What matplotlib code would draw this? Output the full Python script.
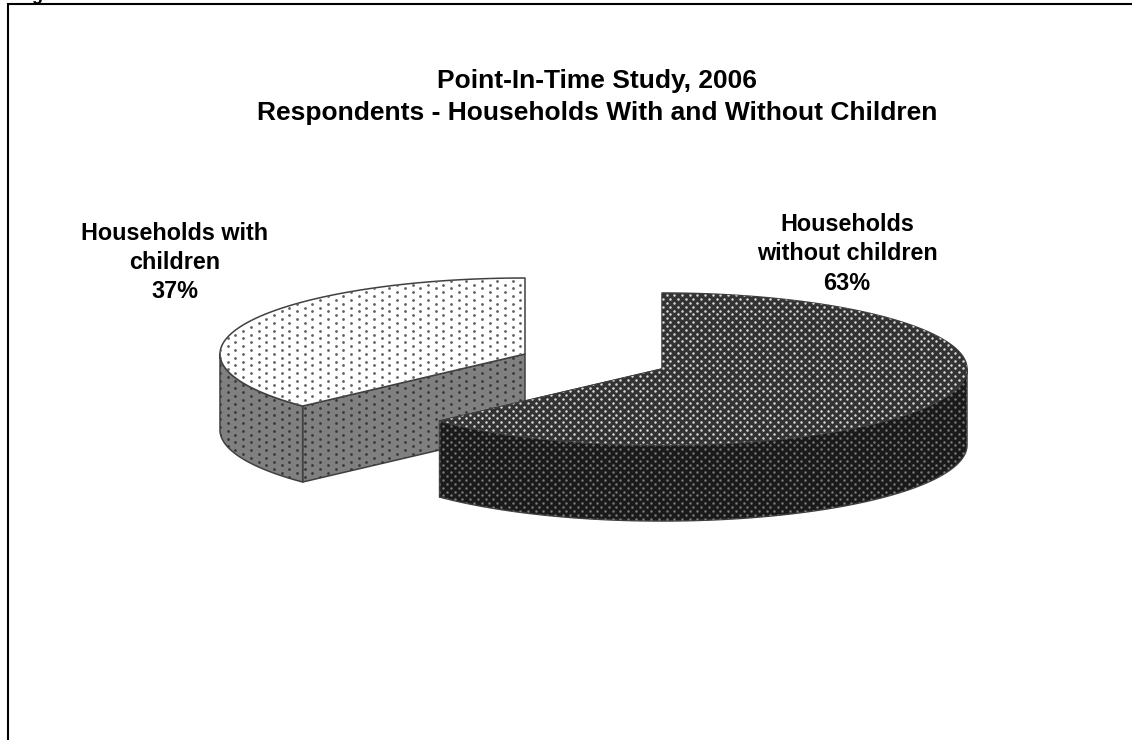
import numpy as np
import matplotlib
matplotlib.use("Agg")
import matplotlib.pyplot as plt
from matplotlib.patches import PathPatch
from matplotlib.path import Path

W, H = 1132, 740

title_lines = ["Point-In-Time Study, 2006",
               "Respondents - Households With and Without Children"]
label_text = ["Households\nwithout children\n63%", "Households with\nchildren\n37%"]
shares = [63, 37]

plt.rcParams["font.family"] = ["Liberation Sans", "DejaVu Sans"]

fig = plt.figure(figsize=(W / 100, H / 100), dpi=100, facecolor="white")
ax = fig.add_axes([0, 0, 1, 1])
ax.set_xlim(0, W)
ax.set_ylim(H, 0)
ax.axis("off")

# Page frame: only the left and top rules are inside the page
ax.plot([8, 8, W + 5], [H + 5, 4, 4], color="black", lw=1.5, solid_joinstyle="miter")
ax.text(37, -4, "g", fontsize=13, fontweight="bold", ha="center", va="center")

RX, RY, DEPTH = 305, 76, 76


def arc(cx, cy, a0, a1, n=160):
    t = np.radians(np.linspace(a0, a1, n))
    return np.column_stack([cx + RX * np.cos(t), cy - RY * np.sin(t)])


def shape(points, face, edge, z):
    verts = np.vstack([points, points[0]])
    patch = PathPatch(Path(verts, closed=True), facecolor=face, edgecolor=edge,
                      lw=1.1, zorder=z, joinstyle="round")
    ax.add_patch(patch)
    return patch


def dots(patch, anchor, sx, colour, size, z):
    # Staggered dot screen clipped to one face of the pie
    sy = 3.85
    xs, ys = [], []
    for k in range(-100, 100):
        y = anchor[1] + k * sy
        offset = (k % 2) * sx / 2
        row = anchor[0] + offset + np.arange(-120, 120) * sx
        xs.extend(row)
        ys.extend([y] * len(row))
    sc = ax.scatter(xs, ys, s=size, c=colour, linewidths=0, zorder=z)
    sc.set_clip_path(patch)


def slice_3d(cx, cy, a_start, a_end, top, side, edge, top_dot, side_dot, anchor, sx, size, z):
    rim = arc(cx, cy, a_start, a_end)
    centre = np.array([[cx, cy]])
    drop = np.array([0, DEPTH])

    # Cut face that looks toward the viewer
    for a in (a_start, a_end):
        p = arc(cx, cy, a, a, 1)
        if p[0, 1] < cy:
            continue
        f = shape(np.vstack([centre, p, p + drop, centre + drop]), side, edge, z)
        dots(f, anchor, sx, side_dot, size, z + 0.1)

    # Outer wall below the front half of the rim
    front = rim[rim[:, 1] >= cy - 0.5]
    f = shape(np.vstack([front, (front + drop)[::-1]]), side, edge, z + 0.2)
    dots(f, anchor, sx, side_dot, size, z + 0.3)

    # Top face
    t = shape(np.vstack([centre, rim]), top, edge, z + 0.4)
    dots(t, anchor, sx, top_dot, size, z + 0.5)


# Shares run clockwise from twelve o'clock
dark_end = 90 - shares[0] * 3.6
slice_3d(525, 354, 90 + shares[1] * 3.6, 90, "white", "#808080", "#404040",
         "#606060", "#383838", (304.7, 315.3), 15.4, 4.0, 2)
slice_3d(662, 369, 90, dark_end, "#333333", "#1a1a1a", "#3c3c3c",
         "#dcdcdc", "#7a7a7a", (705, 403), 7.7, 3.2, 4)

ax.text(597, 97, title_lines[0] + "\n" + title_lines[1], fontsize=19, fontweight="bold",
        ha="center", va="center", linespacing=1.38, zorder=10)
ax.text(847, 254, label_text[0], fontsize=16.8, fontweight="bold", ha="center", va="center",
        linespacing=1.36, zorder=10)
ax.text(174.5, 262.5, label_text[1], fontsize=16.8, fontweight="bold", ha="center", va="center",
        linespacing=1.36, zorder=10)

fig.savefig("out.png", dpi=100, facecolor="white")
